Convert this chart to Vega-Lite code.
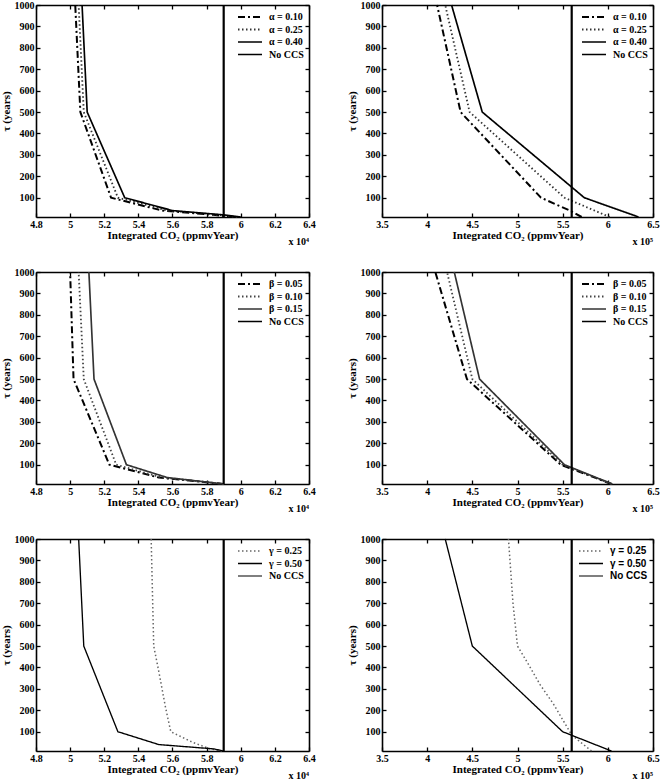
{
  "$schema": "https://vega.github.io/schema/vega-lite/v6.json",
  "padding": {"left": 0, "top": 0, "right": 0, "bottom": 0},
  "bounds": "flush",
  "columns": 2,
  "spacing": {"row": 55, "column": 73},
  "config": {
    "font": "Liberation Serif",
    "view": {"stroke": null},
    "axis": {"domain": true, "ticks": true, "labelFont": "Liberation Serif", "labelFontWeight": "bold", "labelFontSize": 10, "labelColor": "#000", "titleFont": "Liberation Serif", "titleFontWeight": "bold", "titleFontSize": 11, "titleColor": "#000", "domainColor": "#000000", "domainWidth": 1.6, "domainOpacity": 1, "tickColor": "#000000", "tickWidth": 1.3, "tickOpacity": 1, "tickSize": -4, "labelPadding": 6, "grid": false, "labelFlush": false, "labelOverlap": false},
    "axisX": {"titlePadding": 0},
    "axisY": {"titlePadding": 3},
    "legend": {"orient": "top-right", "offset": 5, "padding": 0, "symbolType": "M-2,0H2", "symbolSize": 144, "labelOffset": 12, "labelFont": "Liberation Serif", "labelFontWeight": "bold", "labelFontSize": 10, "labelColor": "#000", "rowPadding": 0.5}
  },
  "datasets": {
    "p1": [
      {"series": "α = 0.10", "tau": 1000, "co2": 5.03}, {"series": "α = 0.10", "tau": 500, "co2": 5.06}, {"series": "α = 0.10", "tau": 100, "co2": 5.24}, {"series": "α = 0.10", "tau": 40, "co2": 5.54}, {"series": "α = 0.10", "tau": 20, "co2": 5.84}, {"series": "α = 0.10", "tau": 10, "co2": 5.96},
      {"series": "α = 0.25", "tau": 1000, "co2": 5.05}, {"series": "α = 0.25", "tau": 500, "co2": 5.08}, {"series": "α = 0.25", "tau": 100, "co2": 5.28}, {"series": "α = 0.25", "tau": 40, "co2": 5.57}, {"series": "α = 0.25", "tau": 20, "co2": 5.87}, {"series": "α = 0.25", "tau": 10, "co2": 5.98},
      {"series": "α = 0.40", "tau": 1000, "co2": 5.07}, {"series": "α = 0.40", "tau": 500, "co2": 5.10}, {"series": "α = 0.40", "tau": 100, "co2": 5.32}, {"series": "α = 0.40", "tau": 40, "co2": 5.60}, {"series": "α = 0.40", "tau": 20, "co2": 5.90}, {"series": "α = 0.40", "tau": 10, "co2": 6.00}
    ],
    "p2": [
      {"series": "α = 0.10", "tau": 1000, "co2": 4.11}, {"series": "α = 0.10", "tau": 500, "co2": 4.37}, {"series": "α = 0.10", "tau": 100, "co2": 5.26}, {"series": "α = 0.10", "tau": 40, "co2": 5.58}, {"series": "α = 0.10", "tau": 10, "co2": 5.71},
      {"series": "α = 0.25", "tau": 1000, "co2": 4.20}, {"series": "α = 0.25", "tau": 500, "co2": 4.47}, {"series": "α = 0.25", "tau": 100, "co2": 5.52}, {"series": "α = 0.25", "tau": 10, "co2": 6.02},
      {"series": "α = 0.40", "tau": 1000, "co2": 4.27}, {"series": "α = 0.40", "tau": 500, "co2": 4.61}, {"series": "α = 0.40", "tau": 100, "co2": 5.74}, {"series": "α = 0.40", "tau": 10, "co2": 6.34}
    ],
    "p3": [
      {"series": "β = 0.05", "tau": 1000, "co2": 5.00}, {"series": "β = 0.05", "tau": 500, "co2": 5.02}, {"series": "β = 0.05", "tau": 100, "co2": 5.23}, {"series": "β = 0.05", "tau": 40, "co2": 5.52}, {"series": "β = 0.05", "tau": 10, "co2": 5.90},
      {"series": "β = 0.10", "tau": 1000, "co2": 5.05}, {"series": "β = 0.10", "tau": 500, "co2": 5.08}, {"series": "β = 0.10", "tau": 100, "co2": 5.27}, {"series": "β = 0.10", "tau": 40, "co2": 5.54}, {"series": "β = 0.10", "tau": 10, "co2": 5.90},
      {"series": "β = 0.15", "tau": 1000, "co2": 5.11}, {"series": "β = 0.15", "tau": 500, "co2": 5.14}, {"series": "β = 0.15", "tau": 100, "co2": 5.33}, {"series": "β = 0.15", "tau": 40, "co2": 5.57}, {"series": "β = 0.15", "tau": 10, "co2": 5.90}
    ],
    "p4": [
      {"series": "β = 0.05", "tau": 1000, "co2": 4.09}, {"series": "β = 0.05", "tau": 500, "co2": 4.44}, {"series": "β = 0.05", "tau": 100, "co2": 5.48}, {"series": "β = 0.05", "tau": 10, "co2": 6.04},
      {"series": "β = 0.10", "tau": 1000, "co2": 4.22}, {"series": "β = 0.10", "tau": 500, "co2": 4.50}, {"series": "β = 0.10", "tau": 100, "co2": 5.50}, {"series": "β = 0.10", "tau": 10, "co2": 6.04},
      {"series": "β = 0.15", "tau": 1000, "co2": 4.30}, {"series": "β = 0.15", "tau": 500, "co2": 4.58}, {"series": "β = 0.15", "tau": 100, "co2": 5.52}, {"series": "β = 0.15", "tau": 10, "co2": 6.05}
    ],
    "p5": [
      {"series": "γ = 0.25", "tau": 1000, "co2": 5.475}, {"series": "γ = 0.25", "tau": 500, "co2": 5.49}, {"series": "γ = 0.25", "tau": 380, "co2": 5.52}, {"series": "γ = 0.25", "tau": 210, "co2": 5.56}, {"series": "γ = 0.25", "tau": 100, "co2": 5.59}, {"series": "γ = 0.25", "tau": 50, "co2": 5.72}, {"series": "γ = 0.25", "tau": 20, "co2": 5.82}, {"series": "γ = 0.25", "tau": 10, "co2": 5.89},
      {"series": "γ = 0.50", "tau": 1000, "co2": 5.05}, {"series": "γ = 0.50", "tau": 500, "co2": 5.08}, {"series": "γ = 0.50", "tau": 100, "co2": 5.28}, {"series": "γ = 0.50", "tau": 40, "co2": 5.52}, {"series": "γ = 0.50", "tau": 20, "co2": 5.84}, {"series": "γ = 0.50", "tau": 10, "co2": 5.90}
    ],
    "p6": [
      {"series": "γ = 0.25", "tau": 1000, "co2": 4.90}, {"series": "γ = 0.25", "tau": 700, "co2": 4.95}, {"series": "γ = 0.25", "tau": 500, "co2": 5.00}, {"series": "γ = 0.25", "tau": 430, "co2": 5.10}, {"series": "γ = 0.25", "tau": 320, "co2": 5.25}, {"series": "γ = 0.25", "tau": 228, "co2": 5.40}, {"series": "γ = 0.25", "tau": 85, "co2": 5.60}, {"series": "γ = 0.25", "tau": 57, "co2": 5.68}, {"series": "γ = 0.25", "tau": 10, "co2": 5.82},
      {"series": "γ = 0.50", "tau": 1000, "co2": 4.20}, {"series": "γ = 0.50", "tau": 500, "co2": 4.50}, {"series": "γ = 0.50", "tau": 100, "co2": 5.50}, {"series": "γ = 0.50", "tau": 10, "co2": 6.04}
    ],
    "r1": [{"series": "No CCS", "co2": 5.9}],
    "r2": [{"series": "No CCS", "co2": 5.6}],
    "e4": [{"note": "x 10⁴"}],
    "e5": [{"note": "x 10⁵"}]
  },
  "resolve": {"scale": {"color": "independent", "strokeDash": "independent", "strokeWidth": "independent"}, "legend": {"color": "independent", "strokeDash": "independent", "strokeWidth": "independent"}},
  "concat": [
    {
      "width": 273, "height": 212,
      "resolve": {"axis": {"x": "independent", "y": "independent"}},
      "layer": [
        {"data": {"name": "p1"}, "mark": {"type": "line"},
         "encoding": {
           "x": {"field": "co2", "type": "quantitative", "scale": {"domain": [4.8, 6.4], "nice": false, "zero": false}, "axis": {"values": [4.8, 5, 5.2, 5.4, 5.6, 5.8, 6, 6.2, 6.4], "format": "~g", "title": "Integrated CO₂ (ppmvYear)"}},
           "y": {"field": "tau", "type": "quantitative", "scale": {"domain": [10, 1000], "nice": false, "zero": false}, "axis": {"values": [100, 200, 300, 400, 500, 600, 700, 800, 900, 1000], "format": "d", "title": "τ (years)"}},
           "order": {"field": "tau", "type": "quantitative"},
           "strokeDash": {"field": "series", "type": "ordinal", "scale": {"domain": ["α = 0.10", "α = 0.25", "α = 0.40", "No CCS"], "range": [[7, 3, 2, 3], [1.5, 2.5], [1, 0], [1, 0]]}, "legend": {"title": null}},
           "strokeWidth": {"field": "series", "type": "ordinal", "scale": {"domain": ["α = 0.10", "α = 0.25", "α = 0.40", "No CCS"], "range": [2, 1.5, 1.1, 2.2]}, "legend": {"title": null}},
           "color": {"field": "series", "type": "ordinal", "scale": {"domain": ["α = 0.10", "α = 0.25", "α = 0.40", "No CCS"], "range": ["#000", "#333", "#000", "#000"]}, "legend": {"title": null}}
         }},
        {"data": {"name": "r1"}, "mark": {"type": "rule", "strokeWidth": 2.2, "color": "#000"},
         "encoding": {
           "x": {"field": "co2", "type": "quantitative", "scale": {"domain": [4.8, 6.4], "nice": false, "zero": false}, "axis": {"orient": "top", "values": [4.8, 5, 5.2, 5.4, 5.6, 5.8, 6, 6.2, 6.4], "labels": false, "title": null}},
           "strokeDash": {"field": "series", "type": "ordinal", "scale": {"domain": ["α = 0.10", "α = 0.25", "α = 0.40", "No CCS"], "range": [[7, 3, 2, 3], [1.5, 2.5], [1, 0], [1, 0]]}, "legend": {"title": null}}
         }},
        {"data": {"name": "e4"}, "mark": {"type": "text", "align": "right", "baseline": "middle", "font": "Liberation Serif", "fontWeight": "bold", "fontSize": 10, "color": "#000"},
         "encoding": {
           "x": {"datum": 6.4, "type": "quantitative", "scale": {"domain": [4.8, 6.4], "nice": false, "zero": false}, "axis": null},
           "y": {"datum": -105, "type": "quantitative", "scale": {"domain": [10, 1000], "nice": false, "zero": false}, "axis": {"orient": "right", "values": [100, 200, 300, 400, 500, 600, 700, 800, 900, 1000], "labels": false, "title": null}},
           "text": {"field": "note"}
         }}
      ]
    },
    {
      "width": 271, "height": 212,
      "resolve": {"axis": {"x": "independent", "y": "independent"}},
      "layer": [
        {"data": {"name": "p2"}, "mark": {"type": "line"},
         "encoding": {
           "x": {"field": "co2", "type": "quantitative", "scale": {"domain": [3.5, 6.5], "nice": false, "zero": false}, "axis": {"values": [3.5, 4, 4.5, 5, 5.5, 6, 6.5], "format": "~g", "title": "Integrated CO₂ (ppmvYear)"}},
           "y": {"field": "tau", "type": "quantitative", "scale": {"domain": [10, 1000], "nice": false, "zero": false}, "axis": {"values": [100, 200, 300, 400, 500, 600, 700, 800, 900, 1000], "format": "d", "title": "τ (years)"}},
           "order": {"field": "tau", "type": "quantitative"},
           "strokeDash": {"field": "series", "type": "ordinal", "scale": {"domain": ["α = 0.10", "α = 0.25", "α = 0.40", "No CCS"], "range": [[7, 3, 2, 3], [1.5, 2.5], [1, 0], [1, 0]]}, "legend": {"title": null}},
           "strokeWidth": {"field": "series", "type": "ordinal", "scale": {"domain": ["α = 0.10", "α = 0.25", "α = 0.40", "No CCS"], "range": [2, 1.5, 1.1, 2.2]}, "legend": {"title": null}},
           "color": {"field": "series", "type": "ordinal", "scale": {"domain": ["α = 0.10", "α = 0.25", "α = 0.40", "No CCS"], "range": ["#000", "#333", "#000", "#000"]}, "legend": {"title": null}}
         }},
        {"data": {"name": "r2"}, "mark": {"type": "rule", "strokeWidth": 2.2, "color": "#000"},
         "encoding": {
           "x": {"field": "co2", "type": "quantitative", "scale": {"domain": [3.5, 6.5], "nice": false, "zero": false}, "axis": {"orient": "top", "values": [3.5, 4, 4.5, 5, 5.5, 6, 6.5], "labels": false, "title": null}},
           "strokeDash": {"field": "series", "type": "ordinal", "scale": {"domain": ["α = 0.10", "α = 0.25", "α = 0.40", "No CCS"], "range": [[7, 3, 2, 3], [1.5, 2.5], [1, 0], [1, 0]]}, "legend": {"title": null}}
         }},
        {"data": {"name": "e5"}, "mark": {"type": "text", "align": "right", "baseline": "middle", "font": "Liberation Serif", "fontWeight": "bold", "fontSize": 10, "color": "#000"},
         "encoding": {
           "x": {"datum": 6.5, "type": "quantitative", "scale": {"domain": [3.5, 6.5], "nice": false, "zero": false}, "axis": null},
           "y": {"datum": -105, "type": "quantitative", "scale": {"domain": [10, 1000], "nice": false, "zero": false}, "axis": {"orient": "right", "values": [100, 200, 300, 400, 500, 600, 700, 800, 900, 1000], "labels": false, "title": null}},
           "text": {"field": "note"}
         }}
      ]
    },
    {
      "width": 273, "height": 212,
      "resolve": {"axis": {"x": "independent", "y": "independent"}},
      "layer": [
        {"data": {"name": "p3"}, "mark": {"type": "line"},
         "encoding": {
           "x": {"field": "co2", "type": "quantitative", "scale": {"domain": [4.8, 6.4], "nice": false, "zero": false}, "axis": {"values": [4.8, 5, 5.2, 5.4, 5.6, 5.8, 6, 6.2, 6.4], "format": "~g", "title": "Integrated CO₂ (ppmvYear)"}},
           "y": {"field": "tau", "type": "quantitative", "scale": {"domain": [10, 1000], "nice": false, "zero": false}, "axis": {"values": [100, 200, 300, 400, 500, 600, 700, 800, 900, 1000], "format": "d", "title": "τ (years)"}},
           "order": {"field": "tau", "type": "quantitative"},
           "strokeDash": {"field": "series", "type": "ordinal", "scale": {"domain": ["β = 0.05", "β = 0.10", "β = 0.15", "No CCS"], "range": [[7, 3, 2, 3], [1.5, 2.5], [1, 0], [1, 0]]}, "legend": {"title": null}},
           "strokeWidth": {"field": "series", "type": "ordinal", "scale": {"domain": ["β = 0.05", "β = 0.10", "β = 0.15", "No CCS"], "range": [2, 1.5, 1.2, 2.2]}, "legend": {"title": null}},
           "color": {"field": "series", "type": "ordinal", "scale": {"domain": ["β = 0.05", "β = 0.10", "β = 0.15", "No CCS"], "range": ["#000", "#444", "#333", "#000"]}, "legend": {"title": null}}
         }},
        {"data": {"name": "r1"}, "mark": {"type": "rule", "strokeWidth": 2.2, "color": "#000"},
         "encoding": {
           "x": {"field": "co2", "type": "quantitative", "scale": {"domain": [4.8, 6.4], "nice": false, "zero": false}, "axis": {"orient": "top", "values": [4.8, 5, 5.2, 5.4, 5.6, 5.8, 6, 6.2, 6.4], "labels": false, "title": null}},
           "strokeDash": {"field": "series", "type": "ordinal", "scale": {"domain": ["β = 0.05", "β = 0.10", "β = 0.15", "No CCS"], "range": [[7, 3, 2, 3], [1.5, 2.5], [1, 0], [1, 0]]}, "legend": {"title": null}}
         }},
        {"data": {"name": "e4"}, "mark": {"type": "text", "align": "right", "baseline": "middle", "font": "Liberation Serif", "fontWeight": "bold", "fontSize": 10, "color": "#000"},
         "encoding": {
           "x": {"datum": 6.4, "type": "quantitative", "scale": {"domain": [4.8, 6.4], "nice": false, "zero": false}, "axis": null},
           "y": {"datum": -105, "type": "quantitative", "scale": {"domain": [10, 1000], "nice": false, "zero": false}, "axis": {"orient": "right", "values": [100, 200, 300, 400, 500, 600, 700, 800, 900, 1000], "labels": false, "title": null}},
           "text": {"field": "note"}
         }}
      ]
    },
    {
      "width": 271, "height": 212,
      "resolve": {"axis": {"x": "independent", "y": "independent"}},
      "layer": [
        {"data": {"name": "p4"}, "mark": {"type": "line"},
         "encoding": {
           "x": {"field": "co2", "type": "quantitative", "scale": {"domain": [3.5, 6.5], "nice": false, "zero": false}, "axis": {"values": [3.5, 4, 4.5, 5, 5.5, 6, 6.5], "format": "~g", "title": "Integrated CO₂ (ppmvYear)"}},
           "y": {"field": "tau", "type": "quantitative", "scale": {"domain": [10, 1000], "nice": false, "zero": false}, "axis": {"values": [100, 200, 300, 400, 500, 600, 700, 800, 900, 1000], "format": "d", "title": "τ (years)"}},
           "order": {"field": "tau", "type": "quantitative"},
           "strokeDash": {"field": "series", "type": "ordinal", "scale": {"domain": ["β = 0.05", "β = 0.10", "β = 0.15", "No CCS"], "range": [[7, 3, 2, 3], [1.5, 2.5], [1, 0], [1, 0]]}, "legend": {"title": null}},
           "strokeWidth": {"field": "series", "type": "ordinal", "scale": {"domain": ["β = 0.05", "β = 0.10", "β = 0.15", "No CCS"], "range": [2, 1.5, 1.2, 2.2]}, "legend": {"title": null}},
           "color": {"field": "series", "type": "ordinal", "scale": {"domain": ["β = 0.05", "β = 0.10", "β = 0.15", "No CCS"], "range": ["#000", "#444", "#333", "#000"]}, "legend": {"title": null}}
         }},
        {"data": {"name": "r2"}, "mark": {"type": "rule", "strokeWidth": 2.2, "color": "#000"},
         "encoding": {
           "x": {"field": "co2", "type": "quantitative", "scale": {"domain": [3.5, 6.5], "nice": false, "zero": false}, "axis": {"orient": "top", "values": [3.5, 4, 4.5, 5, 5.5, 6, 6.5], "labels": false, "title": null}},
           "strokeDash": {"field": "series", "type": "ordinal", "scale": {"domain": ["β = 0.05", "β = 0.10", "β = 0.15", "No CCS"], "range": [[7, 3, 2, 3], [1.5, 2.5], [1, 0], [1, 0]]}, "legend": {"title": null}}
         }},
        {"data": {"name": "e5"}, "mark": {"type": "text", "align": "right", "baseline": "middle", "font": "Liberation Serif", "fontWeight": "bold", "fontSize": 10, "color": "#000"},
         "encoding": {
           "x": {"datum": 6.5, "type": "quantitative", "scale": {"domain": [3.5, 6.5], "nice": false, "zero": false}, "axis": null},
           "y": {"datum": -105, "type": "quantitative", "scale": {"domain": [10, 1000], "nice": false, "zero": false}, "axis": {"orient": "right", "values": [100, 200, 300, 400, 500, 600, 700, 800, 900, 1000], "labels": false, "title": null}},
           "text": {"field": "note"}
         }}
      ]
    },
    {
      "width": 273, "height": 212,
      "resolve": {"axis": {"x": "independent", "y": "independent"}},
      "layer": [
        {"data": {"name": "p5"}, "mark": {"type": "line"},
         "encoding": {
           "x": {"field": "co2", "type": "quantitative", "scale": {"domain": [4.8, 6.4], "nice": false, "zero": false}, "axis": {"values": [4.8, 5, 5.2, 5.4, 5.6, 5.8, 6, 6.2, 6.4], "format": "~g", "title": "Integrated CO₂ (ppmvYear)"}},
           "y": {"field": "tau", "type": "quantitative", "scale": {"domain": [10, 1000], "nice": false, "zero": false}, "axis": {"values": [100, 200, 300, 400, 500, 600, 700, 800, 900, 1000], "format": "d", "title": "τ (years)"}},
           "order": {"field": "tau", "type": "quantitative"},
           "strokeDash": {"field": "series", "type": "ordinal", "scale": {"domain": ["γ = 0.25", "γ = 0.50", "No CCS"], "range": [[1.5, 2.5], [1, 0], [1, 0]]}, "legend": {"title": null}},
           "strokeWidth": {"field": "series", "type": "ordinal", "scale": {"domain": ["γ = 0.25", "γ = 0.50", "No CCS"], "range": [1.5, 1.2, 2.2]}, "legend": {"title": null}},
           "color": {"field": "series", "type": "ordinal", "scale": {"domain": ["γ = 0.25", "γ = 0.50", "No CCS"], "range": ["#666", "#000", "#000"]}, "legend": {"title": null}}
         }},
        {"data": {"name": "r1"}, "mark": {"type": "rule", "strokeWidth": 2.2, "color": "#000"},
         "encoding": {
           "x": {"field": "co2", "type": "quantitative", "scale": {"domain": [4.8, 6.4], "nice": false, "zero": false}, "axis": {"orient": "top", "values": [4.8, 5, 5.2, 5.4, 5.6, 5.8, 6, 6.2, 6.4], "labels": false, "title": null}},
           "strokeDash": {"field": "series", "type": "ordinal", "scale": {"domain": ["γ = 0.25", "γ = 0.50", "No CCS"], "range": [[1.5, 2.5], [1, 0], [1, 0]]}, "legend": {"title": null}}
         }},
        {"data": {"name": "e4"}, "mark": {"type": "text", "align": "right", "baseline": "middle", "font": "Liberation Serif", "fontWeight": "bold", "fontSize": 10, "color": "#000"},
         "encoding": {
           "x": {"datum": 6.4, "type": "quantitative", "scale": {"domain": [4.8, 6.4], "nice": false, "zero": false}, "axis": null},
           "y": {"datum": -105, "type": "quantitative", "scale": {"domain": [10, 1000], "nice": false, "zero": false}, "axis": {"orient": "right", "values": [100, 200, 300, 400, 500, 600, 700, 800, 900, 1000], "labels": false, "title": null}},
           "text": {"field": "note"}
         }}
      ]
    },
    {
      "width": 271, "height": 212,
      "resolve": {"axis": {"x": "independent", "y": "independent"}},
      "layer": [
        {"data": {"name": "p6"}, "mark": {"type": "line"},
         "encoding": {
           "x": {"field": "co2", "type": "quantitative", "scale": {"domain": [3.5, 6.5], "nice": false, "zero": false}, "axis": {"values": [3.5, 4, 4.5, 5, 5.5, 6, 6.5], "format": "~g", "title": "Integrated CO₂ (ppmvYear)"}},
           "y": {"field": "tau", "type": "quantitative", "scale": {"domain": [10, 1000], "nice": false, "zero": false}, "axis": {"values": [100, 200, 300, 400, 500, 600, 700, 800, 900, 1000], "format": "d", "title": "τ (years)"}},
           "order": {"field": "tau", "type": "quantitative"},
           "strokeDash": {"field": "series", "type": "ordinal", "scale": {"domain": ["γ = 0.25", "γ = 0.50", "No CCS"], "range": [[1.5, 2.5], [1, 0], [1, 0]]}, "legend": {"title": null, "labelFont": "Liberation Sans"}},
           "strokeWidth": {"field": "series", "type": "ordinal", "scale": {"domain": ["γ = 0.25", "γ = 0.50", "No CCS"], "range": [1.5, 1.2, 2.2]}, "legend": {"title": null, "labelFont": "Liberation Sans"}},
           "color": {"field": "series", "type": "ordinal", "scale": {"domain": ["γ = 0.25", "γ = 0.50", "No CCS"], "range": ["#666", "#000", "#000"]}, "legend": {"title": null, "labelFont": "Liberation Sans"}}
         }},
        {"data": {"name": "r2"}, "mark": {"type": "rule", "strokeWidth": 2.2, "color": "#000"},
         "encoding": {
           "x": {"field": "co2", "type": "quantitative", "scale": {"domain": [3.5, 6.5], "nice": false, "zero": false}, "axis": {"orient": "top", "values": [3.5, 4, 4.5, 5, 5.5, 6, 6.5], "labels": false, "title": null}},
           "strokeDash": {"field": "series", "type": "ordinal", "scale": {"domain": ["γ = 0.25", "γ = 0.50", "No CCS"], "range": [[1.5, 2.5], [1, 0], [1, 0]]}, "legend": {"title": null, "labelFont": "Liberation Sans"}}
         }},
        {"data": {"name": "e5"}, "mark": {"type": "text", "align": "right", "baseline": "middle", "font": "Liberation Serif", "fontWeight": "bold", "fontSize": 10, "color": "#000"},
         "encoding": {
           "x": {"datum": 6.5, "type": "quantitative", "scale": {"domain": [3.5, 6.5], "nice": false, "zero": false}, "axis": null},
           "y": {"datum": -105, "type": "quantitative", "scale": {"domain": [10, 1000], "nice": false, "zero": false}, "axis": {"orient": "right", "values": [100, 200, 300, 400, 500, 600, 700, 800, 900, 1000], "labels": false, "title": null}},
           "text": {"field": "note"}
         }}
      ]
    }
  ]
}
